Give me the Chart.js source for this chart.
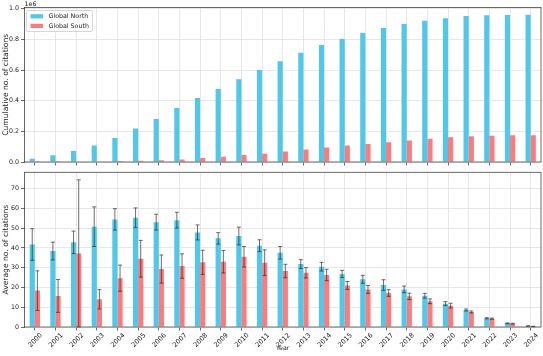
<!DOCTYPE html>
<html><head><meta charset="utf-8">
<script src="https://cdn.jsdelivr.net/npm/chart.js@4.4.1/dist/chart.umd.min.js"></script>
<style>
html,body{margin:0;padding:0;background:#fff;overflow:hidden}
#wrap{position:relative;width:543px;height:356px;background:#fff}
#c1{position:absolute;left:0;top:0}
#c2{position:absolute;left:0;top:165px}
</style></head><body>
<div id="wrap"><canvas id="c1" width="543" height="168"></canvas><canvas id="c2" width="543" height="191"></canvas></div>
<script>
const years = ['2000','2001','2002','2003','2004','2005','2006','2007','2008','2009','2010','2011','2012','2013','2014','2015','2016','2017','2018','2019','2020','2021','2022','2023','2024'];
const seriesNames = ['Global North','Global South'];
const cumNorth = [22000,44000,72000,107000,157000,218000,280000,352000,418000,477000,540000,600000,658000,713000,763000,802000,842000,874000,900000,922000,938000,953000,957000,959000,960000];
const cumSouth = [1000,2000,3000,4000,6000,8000,12000,17000,26000,35000,46000,54000,68000,81000,94000,107000,118000,129000,140000,151000,162000,168000,172000,174000,174000];
const avgNorth = [41.7,38.4,42.8,50.7,54.4,55.2,53.0,54.0,47.8,44.8,46.0,41.1,37.5,31.8,30.5,26.8,24.1,21.2,19.0,15.8,11.8,8.6,4.4,1.85,0.5];
const errNorth = [8.0,4.5,5.7,10.0,5.4,5.0,4.0,4.0,3.8,2.9,4.5,3.0,3.2,2.2,2.2,1.8,2.0,2.7,1.7,1.2,1.0,0.5,0.3,0.2,0.1];
const avgSouth = [18.4,15.7,37.2,14.0,24.7,34.5,29.3,30.8,32.7,33.0,35.5,32.5,28.3,27.4,26.3,21.0,19.0,17.2,15.5,13.0,10.8,7.6,4.2,1.7,0.3];
const errSouth = [10.0,8.3,37.2,4.9,6.6,9.3,7.1,6.2,6.1,5.7,5.2,6.5,3.4,2.6,2.9,2.0,2.0,1.7,1.6,1.2,1.2,0.5,0.3,0.2,0.1];
const topTicks = [0,0.2,0.4,0.6,0.8,1.0];

const BLUE = '#50c8ea', RED = '#ff7a7a';
const FS = 6.3;
const FONT = {family:'DejaVu Sans', size:FS};
const XFONT = {family:'DejaVu Sans', size:6.6};
const TFONT = {family:'DejaVu Sans', size:7.6};
const GRID = '#e2e2e2', SPINE = '#444';
Chart.defaults.font.family = 'DejaVu Sans';
Chart.defaults.color = '#222';
Chart.defaults.animation = false;

const framePlugin = {id:'frame', afterDatasetsDraw(chart){
  const a = chart.chartArea, ctx = chart.ctx;
  ctx.save(); ctx.strokeStyle = SPINE; ctx.lineWidth = 0.8;
  ctx.strokeRect(a.left, a.top, a.right-a.left, a.bottom-a.top);
  ctx.restore();
}};

const errPlugin = {id:'err', afterDatasetsDraw(chart){
  const ctx = chart.ctx, ys = chart.scales.y, a = chart.chartArea;
  ctx.save();
  ctx.beginPath(); ctx.rect(a.left, a.top-1, a.right-a.left, a.bottom-a.top+2); ctx.clip();
  ctx.strokeStyle = 'rgba(40,40,40,0.75)'; ctx.lineWidth = 0.9;
  const cap = 2;
  chart.data.datasets.forEach((ds,i)=>{
    if(!ds.errors) return;
    const meta = chart.getDatasetMeta(i);
    meta.data.forEach((bar,j)=>{
      const v = ds.data[j], e = ds.errors[j];
      const yt = ys.getPixelForValue(v+e), yb = ys.getPixelForValue(Math.max(0, v-e));
      const x = bar.x;
      ctx.beginPath();
      ctx.moveTo(x, yt); ctx.lineTo(x, yb);
      ctx.moveTo(x-cap, yt); ctx.lineTo(x+cap, yt);
      ctx.moveTo(x-cap, yb); ctx.lineTo(x+cap, yb);
      ctx.stroke();
    });
  });
  ctx.restore();
}};

const legendPlugin = {id:'legbox', afterDraw(chart){
  const ctx = chart.ctx, a = chart.chartArea;
  ctx.save();
  ctx.fillStyle = '#222'; ctx.font = FS+'px "DejaVu Sans"';
  ctx.textAlign = 'left'; ctx.textBaseline = 'alphabetic';
  ctx.fillText('1e6', a.left, a.top - 1.2);
  const bx = a.left + 2, by = a.top + 3, bw = 66, bh = 21;
  ctx.fillStyle = 'rgba(255,255,255,0.85)';
  ctx.strokeStyle = '#cccccc'; ctx.lineWidth = 0.8;
  ctx.beginPath();
  if (ctx.roundRect) ctx.roundRect(bx, by, bw, bh, 1.5); else ctx.rect(bx, by, bw, bh);
  ctx.fill(); ctx.stroke();
  chart.data.datasets.forEach((ds,i)=>{
    const y = by + 5.5 + i*9.6;
    ctx.fillStyle = ds.backgroundColor;
    ctx.fillRect(bx + 4, y - 1.8, 12.5, 4.2);
    ctx.fillStyle = '#222'; ctx.textBaseline = 'middle';
    ctx.fillText(ds.label, bx + 22, y + 0.4);
  });
  ctx.restore();
}};

function yAxisCommon(title){
  return {
    border:{display:false},
    grid:{color:GRID, lineWidth:0.8, tickLength:3.5, tickColor:SPINE, drawTicks:true},
    title:{display:true, text:title, font:TFONT, padding:{top:1.6, bottom:0}, color:'#222'},
    afterFit(s){ s.width = 24.5; }
  };
}

new Chart(document.getElementById('c1'), {
  type:'bar',
  data:{labels:years, datasets:[
    {label:seriesNames[0], data:cumNorth, backgroundColor:BLUE, borderWidth:0, categoryPercentage:0.5, barPercentage:1.0},
    {label:seriesNames[1], data:cumSouth, backgroundColor:RED, borderWidth:0, categoryPercentage:0.5, barPercentage:1.0}
  ]},
  options:{
    responsive:false, animation:false,
    layout:{padding:{top:7.5, right:2, left:0, bottom:0}},
    plugins:{legend:{display:false}, tooltip:{enabled:false}},
    scales:{
      x:{type:'category', offset:true, border:{display:false},
         grid:{offset:false, color:GRID, lineWidth:0.8, tickLength:3.5, tickColor:SPINE, drawTicks:true},
         ticks:{display:false, autoSkip:false}, afterFit(s){ s.height = 6; }},
      y:Object.assign(yAxisCommon('Cumulative no. of citations'), {
         min:0, max:1008000,
         afterBuildTicks(s){ s.ticks = topTicks.map(v=>({value:v*1e6})); },
         ticks:{font:FONT, padding:2, color:'#222', callback:v=>(v/1e6).toFixed(1)}
      })
    }
  },
  plugins:[framePlugin, legendPlugin]
});

new Chart(document.getElementById('c2'), {
  type:'bar',
  data:{labels:years, datasets:[
    {label:seriesNames[0], data:avgNorth, errors:errNorth, backgroundColor:BLUE, borderWidth:0, categoryPercentage:0.5, barPercentage:1.0},
    {label:seriesNames[1], data:avgSouth, errors:errSouth, backgroundColor:RED, borderWidth:0, categoryPercentage:0.5, barPercentage:1.0}
  ]},
  options:{
    responsive:false, animation:false,
    layout:{padding:{top:7.3, right:2, left:0, bottom:0}},
    plugins:{legend:{display:false}, tooltip:{enabled:false}},
    scales:{
      x:{type:'category', offset:true, border:{display:false},
         grid:{offset:false, color:GRID, lineWidth:0.8, tickLength:3.5, tickColor:SPINE, drawTicks:true},
         ticks:{autoSkip:false, minRotation:45, maxRotation:45, font:XFONT, padding:1, labelOffset:6.5, color:'#222'},
         title:{display:true, text:'Year', font:FONT, padding:{top:0, bottom:3.5}, color:'#222'},
         afterFit(s){ s.height = 29; }},
      y:Object.assign(yAxisCommon('Average no. of citations'), {
         min:0, max:78.2,
         ticks:{font:FONT, padding:2, color:'#222', stepSize:10, includeBounds:false}
      })
    }
  },
  plugins:[errPlugin, framePlugin]
});
</script>
</body></html>
